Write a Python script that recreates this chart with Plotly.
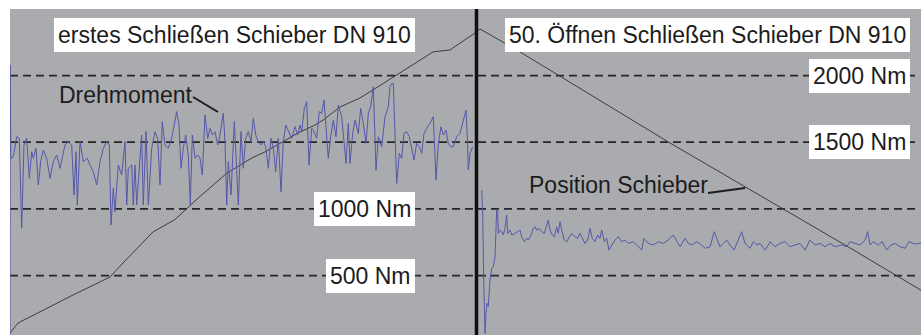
import plotly.graph_objects as go

# ---------------- data ----------------
# time in samples (arbitrary units), torque in Nm
t_close = [0, 0.2, 0.8, 1.7, 3.3, 6.7, 9.3, 11.7, 14, 16.7, 19.3, 21.7, 23.3, 26, 28.3, 30.7, 33.3,
           36.7, 40, 43.3, 46.7, 50, 55, 58.3, 61.7, 64, 66, 67.3, 70, 73.3, 77.3, 80, 83.3, 86.7,
           90, 93.3, 96.7, 99.3, 101, 103.3, 105, 108.3, 111.7, 115, 116.7, 118.3, 121.7, 123.3,
           125, 126.7, 129.3, 131.7, 133.3, 136, 138.3, 141.7, 145,
           147.7, 150, 152.3, 155, 158.3, 161.7, 164.3, 166.7, 169, 171, 173.3, 175.7, 178.3, 180.3,
           182.3, 185, 187.7, 190, 192.3, 195, 197.7, 200, 202.3, 205, 207.7, 210, 213.3, 215, 216.7,
           218.3, 221, 224.3, 226.3, 228.3, 231, 233.3, 235.7, 238.3, 241, 243.3, 245.7, 248.3, 251,
           253.3, 255.7, 258.3, 261, 263.3, 265.7, 268.3, 271, 273.3, 275.7, 278.3, 281.7, 285, 287.7,
           290, 291.7, 294.3, 296.7, 299, 301.7,
           303.3, 306.7, 309.3, 311.7, 314, 316, 318.3, 320.7, 323.3, 326, 328.3, 331.7, 336, 338.3,
           340, 342.7, 345, 348.3, 350.7, 353.3, 356, 358.3, 360.7, 363.3, 366, 368.3, 371.7, 375,
           378.3, 380, 381.7, 383.3, 385, 386.7, 389.3, 391.7, 394, 396.7, 399.3, 401.7, 404, 406.7,
           409.3, 411.7, 414, 416.7, 420, 423.3, 426, 428.3, 431, 433.3, 436, 438.3, 440.7, 443.3,
           446.7, 450, 453.3, 456, 457.3, 458.3, 460, 462.7]
torque_close = [40, 2079, 1400, 1379, 1391, 1541, 1529, 854, 1479, 1529, 1229, 1429, 1379, 1454, 1179,
                1354, 1441, 1379, 1229, 1354, 1404, 1304, 1479, 1504, 1479, 1104, 1429, 1029, 1504,
                1354, 1379, 1329, 1279, 1179, 1354, 1454, 1504, 1479, 879, 1154, 979, 1329, 1254,
                1504, 1029, 1304, 1329, 1029, 1329, 1029, 1329, 1554, 1029, 1579, 1029, 1454, 1579,
                1529, 1179, 1654, 1479, 1454, 1529, 1629, 1729, 1629, 1304, 1454, 1554, 1404, 1029,
                1554, 1379, 1404, 1379, 1254, 1704, 1529, 1604, 1554, 1579, 1479, 1554, 1717, 1504,
                1029, 1354, 1104, 1654, 1354, 1029, 1579, 1304, 1529, 1579, 1504, 1679, 1554, 1504,
                1479, 1504, 1467, 1304, 1529, 1454, 1279, 1529, 1129, 1504, 1629, 1579, 1529, 1617,
                1554, 1629, 1579, 1754, 1804, 1329, 1604,
                1591, 1529, 1729, 1716, 1816, 1591, 1379, 1541, 1666, 1541, 1779, 1691, 1341, 1641,
                1341, 1566, 1666, 1566, 1754, 1641, 1491, 1716, 1766, 1916, 1291, 1541, 1466, 1691,
                1766, 1916, 1941, 1941, 1541, 1191, 1416, 1379, 1566, 1579, 1541, 1441, 1366, 1491,
                1466, 1416, 1566, 1604, 1641, 1691, 1216, 1491, 1616, 1554, 1591, 1491, 1466, 1466,
                1541, 1566, 1666, 1741, 1541, 1291, 1416, 1466]

t_open = [471.7, 472.7, 473.7, 474.3, 475, 476, 477, 478.3, 480, 481.7, 483.3, 485, 485.7, 486.7,
          487.7, 488.3, 490, 491.7, 493.3, 495, 496.7, 497.7, 500, 501.7, 505, 508.3, 510, 511.7,
          514.3, 516.7, 518.3, 521.7, 523.3, 525, 526.7, 529, 531.7, 534.3, 536.7, 538.3, 540,
          542.3, 544.3, 546.7, 548.3, 550, 551.7, 554.3, 556.7, 559, 561.7, 565, 567.7, 570, 572.3,
          575, 577.7, 580, 582.3, 585, 587.7, 590, 591.7, 594.3, 596.7, 599, 601.7, 605, 608.3,
          611.7, 615, 618.3, 623.3, 628.3, 631.7, 634, 638.3, 643.3, 648.3, 653.3, 658.3, 663.3,
          666.7, 670, 675, 678.3, 681.7, 686.7, 691.7, 695, 700, 704.3, 706.7, 710, 713.3, 716.7,
          720, 724, 728.3, 731.7, 735, 740, 743.3, 746.7, 750, 755, 758.3, 760, 765, 770, 775, 780,
          785, 790, 795, 800, 805, 810, 815, 820, 825, 831.7, 836.7, 840, 845, 850, 855, 857.7,
          860, 863.3, 868.3, 872.3, 876.7, 881, 885, 890, 895, 899, 903.3, 907, 911]
torque_open = [1141, 966, 466, 91, 66, 216, 291, 266, 466, 554, 566, 641, 841, 991, 996, 816, 841,
               829, 804, 854, 954, 816, 841, 804, 816, 829, 841, 791, 754, 779, 766, 816, 854, 866,
               841, 854, 829, 816, 866, 916, 841, 804, 791, 866, 816, 904, 841, 766, 754, 779, 816,
               791, 779, 816, 779, 741, 766, 854, 779, 754, 804, 779, 841, 754, 779, 691, 729, 766,
               791, 754, 766, 741, 754, 716, 691, 779, 741, 729, 754, 741, 766, 804, 754, 716, 779,
               741, 729, 754, 729, 704, 716, 829, 779, 716, 741, 766, 729, 691, 766, 829, 741, 704,
               754, 729, 741, 691, 729, 754, 716, 741, 754, 716, 729, 741, 691, 766, 729, 741, 716,
               741, 716, 729, 716, 754, 741, 729, 766, 829, 729, 754, 729, 754, 691, 729, 741, 716,
               704, 754, 741, 736, 745]

t_pos = [0, 8, 63, 100, 113, 143, 165, 188, 217, 242, 255, 272, 288, 305, 313, 330, 350, 363, 383,
         400, 423, 440, 457, 465, 470, 510, 660, 840, 911]
pos = [69, 144, 354, 489, 594, 827, 920, 1080, 1269, 1382, 1427, 1502, 1569, 1629, 1666, 1764,
       1832, 1892, 1989, 2072, 2177, 2192, 2274, 2319, 2349, 2177, 1494, 707, 390]

ref_levels = [2000, 1500, 1000, 500]
ref_labels = ["2000 Nm", "1500 Nm", "1000 Nm", "500 Nm"]
t_switch = 466.5
title_left = "erstes Schließen Schieber DN 910"
title_right = "50. Öffnen Schließen Schieber DN 910"

# ---------------- layout helpers ----------------
W, H = 921, 335
ML, MT = 10, 9
NM_PER_PX = 7.5
ZERO_PX = 342.2


def tx(px):
    return px - ML


def vy(py):
    return (ZERO_PX - py) * NM_PER_PX


FONT = "Liberation Sans, Arial, sans-serif"
TXT = "#1c1c1c"

fig = go.Figure()
fig.add_trace(go.Scatter(x=t_pos, y=pos, mode="lines",
                         line=dict(color="#3c3c3e", width=1), hoverinfo="skip"))
fig.add_trace(go.Scatter(x=t_close, y=torque_close, mode="lines",
                         line=dict(color="#5558a8", width=1), hoverinfo="skip"))
fig.add_trace(go.Scatter(x=t_open, y=torque_open, mode="lines",
                         line=dict(color="#5558a8", width=1), hoverinfo="skip"))

shapes = []
for lv in ref_levels:
    shapes.append(dict(type="line", xref="x", yref="y", x0=0, x1=tx(915), y0=lv, y1=lv,
                       line=dict(color="#262626", width=1.8, dash="8px,5px"), layer="below"))
shapes.append(dict(type="line", xref="x", yref="paper", x0=t_switch, x1=t_switch, y0=0, y1=1,
                   line=dict(color="#111111", width=3.5)))
shapes.append(dict(type="line", xref="x", yref="y", x0=tx(193), y0=vy(97), x1=tx(218), y1=vy(112),
                   line=dict(color="#1c1c1c", width=2)))
shapes.append(dict(type="line", xref="x", yref="y", x0=tx(708), y0=vy(193), x1=tx(745), y1=vy(188),
                   line=dict(color="#1c1c1c", width=2)))

ann = []
box = dict(bgcolor="white", borderpad=4, borderwidth=0, showarrow=False,
           font=dict(family=FONT, size=23, color=TXT), xanchor="right", yanchor="middle",
           xref="x", yref="y")
ann.append(dict(text=title_left, x=tx(415), y=vy(35), **box))
ann.append(dict(text=title_right, x=tx(910), y=vy(35), **box))
label_right_px = {2000: 910, 1500: 910, 1000: 415, 500: 415}
for lv, lab in zip(ref_levels, ref_labels):
    ann.append(dict(text=lab, x=tx(label_right_px[lv]), y=lv, **box))
ann.append(dict(text="Drehmoment", x=tx(126), y=vy(95), showarrow=False, xref="x", yref="y",
                font=dict(family=FONT, size=23, color=TXT), xanchor="center", yanchor="middle"))
ann.append(dict(text="Position Schieber", x=tx(618), y=vy(185), showarrow=False, xref="x", yref="y",
                font=dict(family=FONT, size=23, color=TXT), xanchor="center", yanchor="middle"))

fig.update_layout(
    width=W, height=H,
    margin=dict(l=ML, r=0, t=MT, b=0, pad=0),
    paper_bgcolor="white", plot_bgcolor="#a9abae",
    showlegend=False, shapes=shapes, annotations=ann,
    xaxis=dict(range=[0, W - ML], showgrid=False, zeroline=False, showticklabels=False,
               showline=False, ticks="", fixedrange=True),
    yaxis=dict(range=[vy(H), vy(MT)], showgrid=False, zeroline=False, showticklabels=False,
               showline=False, ticks="", fixedrange=True),
)

fig.write_html("out.html", config={"displayModeBar": False},
               post_script="document.body.style.margin='0';document.body.style.overflow='hidden';")
